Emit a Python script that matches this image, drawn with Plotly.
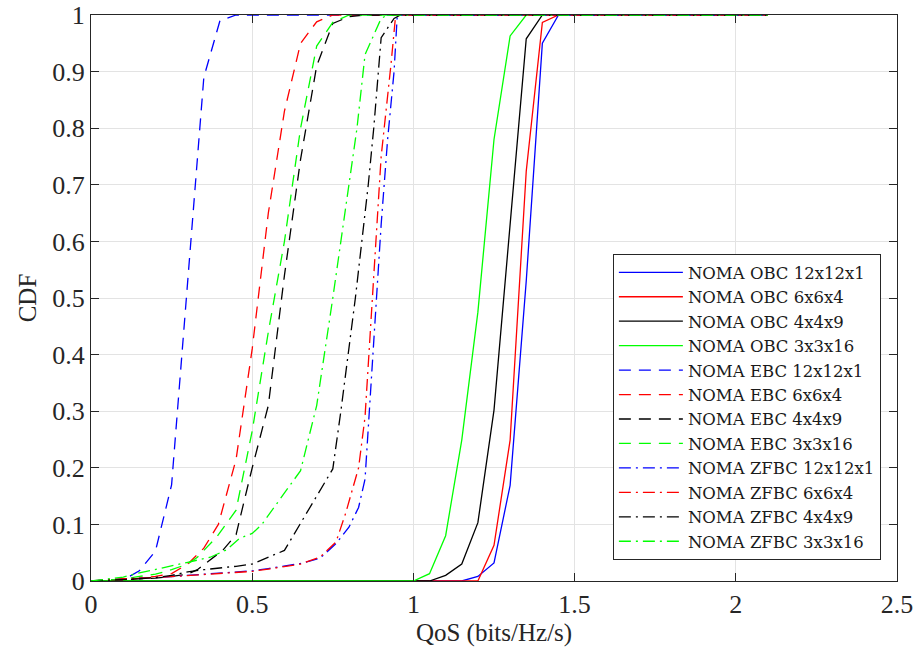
import plotly.graph_objects as go

# ---- data ----
obc_12_x = [0, 1.15, 1.2, 1.25, 1.3, 1.35, 1.4, 1.45, 2.1]
obc_12_y = [0, 0, 0.008, 0.032, 0.169, 0.53, 0.95, 1, 1]
obc_6_x = [0, 1.2, 1.25, 1.3, 1.35, 1.4, 1.45, 2.1]
obc_6_y = [0, 0, 0.063, 0.249, 0.724, 0.987, 1, 1]
obc_4_x = [0, 1.05, 1.1, 1.15, 1.2, 1.25, 1.3, 1.35, 1.4, 2.1]
obc_4_y = [0, 0, 0.01, 0.03, 0.103, 0.302, 0.63, 0.958, 1, 1]
obc_3_x = [0, 1.0, 1.05, 1.1, 1.15, 1.2, 1.25, 1.3, 1.35, 2.1]
obc_3_y = [0, 0, 0.013, 0.08, 0.249, 0.475, 0.78, 0.963, 1, 1]

ebc_12_x = [0, 0.1, 0.15, 0.2, 0.25, 0.3, 0.35, 0.4, 0.45, 2.1]
ebc_12_y = [0, 0.002, 0.018, 0.053, 0.17, 0.53, 0.89, 0.99, 1, 1]
ebc_6_x = [0, 0.1, 0.2, 0.25, 0.3, 0.35, 0.395, 0.42, 0.45, 0.5, 0.55, 0.6, 0.65, 0.7, 0.75, 2.1]
ebc_6_y = [0, 0.002, 0.008, 0.013, 0.03, 0.058, 0.1, 0.152, 0.215, 0.41, 0.65, 0.83, 0.95, 0.988, 1, 1]
ebc_4_x = [0, 0.1, 0.2, 0.25, 0.3, 0.33, 0.41, 0.45, 0.5, 0.55, 0.6, 0.65, 0.7, 0.75, 0.8, 0.85, 2.1]
ebc_4_y = [0, 0.002, 0.005, 0.008, 0.012, 0.02, 0.055, 0.082, 0.2, 0.31, 0.54, 0.745, 0.91, 0.985, 0.997, 1, 1]
ebc_3_x = [0, 0.1, 0.15, 0.2, 0.25, 0.3, 0.33, 0.39, 0.45, 0.5, 0.55, 0.6, 0.65, 0.7, 0.75, 0.8, 2.1]
ebc_3_y = [0, 0.003, 0.008, 0.012, 0.02, 0.03, 0.042, 0.078, 0.125, 0.265, 0.44, 0.6, 0.8, 0.945, 0.987, 1, 1]

zfbc_12_x = [0, 0.05, 0.1, 0.2, 0.3, 0.4, 0.5, 0.55, 0.6, 0.65, 0.71, 0.76, 0.8, 0.83, 0.85, 0.86, 0.9, 0.92, 0.94, 0.95, 2.1]
zfbc_12_y = [0, 0.002, 0.004, 0.006, 0.01, 0.014, 0.018, 0.022, 0.026, 0.031, 0.04, 0.066, 0.095, 0.13, 0.18, 0.27, 0.63, 0.78, 0.9, 1, 1]
zfbc_6_x = [0, 0.05, 0.1, 0.2, 0.3, 0.4, 0.5, 0.55, 0.6, 0.65, 0.71, 0.76, 0.79, 0.83, 0.85, 0.9, 0.93, 0.945, 2.1]
zfbc_6_y = [0, 0.002, 0.004, 0.006, 0.01, 0.014, 0.017, 0.021, 0.025, 0.03, 0.042, 0.069, 0.12, 0.2, 0.29, 0.75, 0.91, 1, 1]
zfbc_4_x = [0, 0.1, 0.15, 0.2, 0.25, 0.3, 0.35, 0.45, 0.5, 0.6, 0.75, 0.775, 0.8, 0.82, 0.84, 0.86, 0.877, 0.9, 0.94, 0.96, 2.1]
zfbc_4_y = [0, 0.002, 0.004, 0.006, 0.01, 0.016, 0.02, 0.026, 0.03, 0.054, 0.198, 0.3, 0.41, 0.5, 0.6, 0.7, 0.8, 0.96, 0.994, 1, 1]
zfbc_3_x = [0, 0.05, 0.1, 0.14, 0.2, 0.3, 0.37, 0.42, 0.46, 0.5, 0.53, 0.65, 0.7, 0.75, 0.8, 0.825, 0.85, 0.9, 0.92, 2.1]
zfbc_3_y = [0, 0.003, 0.007, 0.013, 0.02, 0.033, 0.042, 0.055, 0.075, 0.084, 0.1, 0.195, 0.31, 0.5, 0.7, 0.8, 0.93, 0.994, 1, 1]

x_ticks = [0, 0.5, 1, 1.5, 2, 2.5]
x_tick_labels = ["0", "0.5", "1", "1.5", "2", "2.5"]
y_ticks = [0, 0.1, 0.2, 0.3, 0.4, 0.5, 0.6, 0.7, 0.8, 0.9, 1]
y_tick_labels = ["0", "0.1", "0.2", "0.3", "0.4", "0.5", "0.6", "0.7", "0.8", "0.9", "1"]

series = [
    ("NOMA OBC 12x12x1", obc_12_x, obc_12_y, "#0000ff", "solid"),
    ("NOMA OBC 6x6x4", obc_6_x, obc_6_y, "#ff0000", "solid"),
    ("NOMA OBC 4x4x9", obc_4_x, obc_4_y, "#000000", "solid"),
    ("NOMA OBC 3x3x16", obc_3_x, obc_3_y, "#00ff00", "solid"),
    ("NOMA EBC 12x12x1", ebc_12_x, ebc_12_y, "#0000ff", "12px,8px"),
    ("NOMA EBC 6x6x4", ebc_6_x, ebc_6_y, "#ff0000", "12px,8px"),
    ("NOMA EBC 4x4x9", ebc_4_x, ebc_4_y, "#000000", "12px,8px"),
    ("NOMA EBC 3x3x16", ebc_3_x, ebc_3_y, "#00ff00", "12px,8px"),
    ("NOMA ZFBC 12x12x1", zfbc_12_x, zfbc_12_y, "#0000ff", "12px,5px,2px,5px"),
    ("NOMA ZFBC 6x6x4", zfbc_6_x, zfbc_6_y, "#ff0000", "12px,5px,2px,5px"),
    ("NOMA ZFBC 4x4x9", zfbc_4_x, zfbc_4_y, "#000000", "12px,5px,2px,5px"),
    ("NOMA ZFBC 3x3x16", zfbc_3_x, zfbc_3_y, "#00ff00", "12px,5px,2px,5px"),
]

fig = go.Figure()
for name, xs, ys, color, dash in series:
    fig.add_trace(go.Scatter(x=xs, y=ys, mode="lines", name=name,
                             line=dict(color=color, width=1.3, dash=dash)))

FONT = "Liberation Serif, Times New Roman, serif"
LEG_FONT = "DejaVu Serif, serif"
AX = "#262626"
axis_common = dict(showline=True, linecolor=AX, linewidth=1, mirror="ticks",
                   ticks="inside", ticklen=8, tickcolor=AX, tickwidth=1,
                   showgrid=True, gridcolor="#e3e3e3", gridwidth=1,
                   zeroline=False, tickfont=dict(family=FONT, size=26, color=AX),
                   automargin=False)

fig.update_layout(
    width=919, height=655,
    margin=dict(l=91, r=22, t=15, b=74),
    paper_bgcolor="white", plot_bgcolor="white",
    font=dict(family=FONT, color=AX),
    xaxis=dict(range=[0, 2.5], tickvals=x_ticks, ticktext=x_tick_labels,
               title=dict(text="QoS (bits/Hz/s)", font=dict(family=FONT, size=25, color=AX), standoff=4),
               **axis_common),
    yaxis=dict(range=[0, 1], tickvals=y_ticks, ticktext=y_tick_labels,
               title=dict(text="CDF", font=dict(family=FONT, size=25, color=AX), standoff=8),
               **axis_common),
    legend=dict(x=0.980, y=0.037, xanchor="right", yanchor="bottom",
                bgcolor="white", bordercolor=AX, borderwidth=1,
                font=dict(family=LEG_FONT, size=16.5, color="#1a1a1a"),
                tracegroupgap=0, itemwidth=64),
    showlegend=True,
)

fig.write_html("out.html")
